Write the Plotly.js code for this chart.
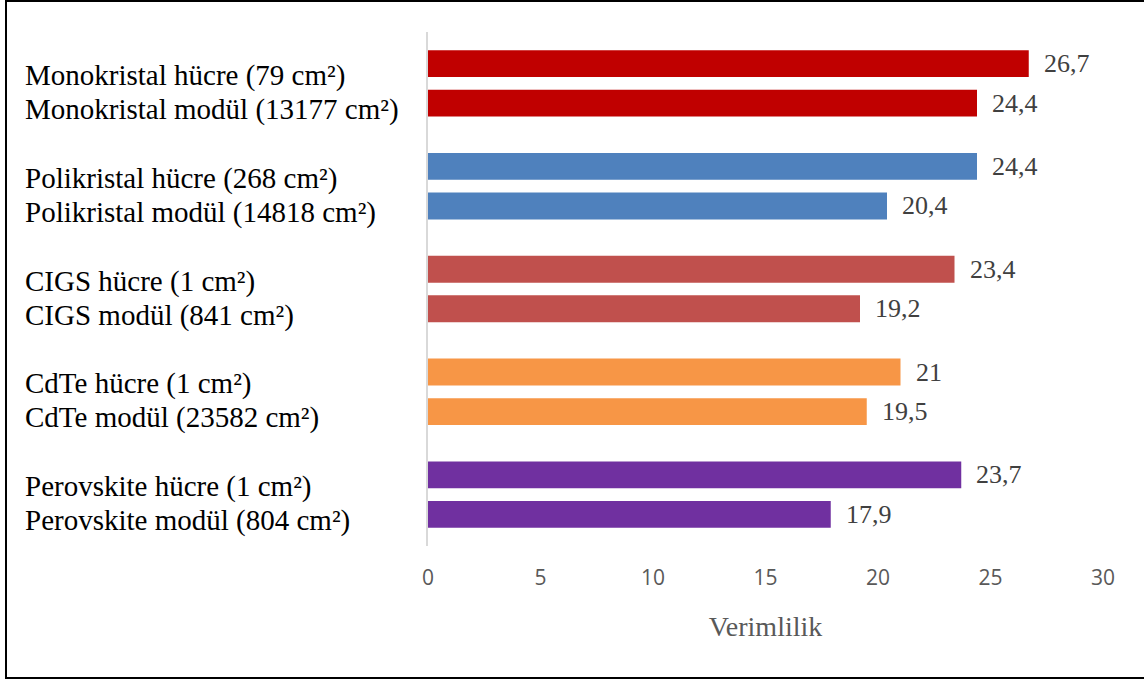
<!DOCTYPE html>
<html>
<head>
<meta charset="utf-8">
<script src="https://cdn.plot.ly/plotly-3.0.1.min.js"></script>
<style>
  html, body { margin: 0; padding: 0; background: #fff; overflow: hidden; }
  #chart { position: absolute; left: 0; top: 0; width: 1144px; height: 679px; }
  #frame { position: absolute; left: 5px; top: 0px; width: 1200px; height: 675px;
           border: 2px solid #000; border-right: none; pointer-events: none; }
</style>
</head>
<body>
<div id="chart"></div>
<div id="frame"></div>
<script>
// ---- data ----
var groups = ["Monokristal", "Polikristal", "CIGS", "CdTe", "Perovskite"];
var cellLabels = [
  "Monokristal hücre (79 cm²)",
  "Polikristal hücre (268 cm²)",
  "CIGS hücre (1 cm²)",
  "CdTe hücre (1 cm²)",
  "Perovskite hücre (1 cm²)"
];
var moduleLabels = [
  "Monokristal modül (13177 cm²)",
  "Polikristal modül (14818 cm²)",
  "CIGS modül (841 cm²)",
  "CdTe modül (23582 cm²)",
  "Perovskite modül (804 cm²)"
];
var cellValues = [26.7, 24.4, 23.4, 21, 23.7];
var moduleValues = [24.4, 20.4, 19.2, 19.5, 17.9];
var groupColors = ["#C00000", "#4F81BD", "#C0504D", "#F79646", "#7030A0"];
var xTicks = [0, 5, 10, 15, 20, 25, 30];
var axisTitle = "Verimlilik";

// ---- layout helpers ----
var groupStep = 2.6;
var ys = [], xs = [], cols = [];
groups.forEach(function (g, i) {
  ys.push(i * groupStep);     xs.push(cellValues[i]);   cols.push(groupColors[i]);
  ys.push(i * groupStep + 1); xs.push(moduleValues[i]); cols.push(groupColors[i]);
});
function fmt(v) { return String(v).replace(".", ","); }

var serif = "Liberation Serif, Times New Roman, serif";
var annotations = [];
xs.forEach(function (v, k) {
  annotations.push({
    x: v, y: ys[k], xref: "x", yref: "y", text: fmt(v), showarrow: false,
    xanchor: "left", yanchor: "middle", xshift: 13,
    font: { family: serif, size: 26, color: "#404040" }
  });
});
groups.forEach(function (g, i) {
  var yc = i * groupStep + 0.5;
  annotations.push({
    x: 0, y: yc, xref: "paper", yref: "y", text: cellLabels[i], showarrow: false,
    xanchor: "left", yanchor: "middle", xshift: -405, yshift: 8,
    font: { family: serif, size: 29, color: "#000" }
  });
  annotations.push({
    x: 0, y: yc, xref: "paper", yref: "y", text: moduleLabels[i], showarrow: false,
    xanchor: "left", yanchor: "middle", xshift: -405, yshift: -26,
    font: { family: serif, size: 29, color: "#000" }
  });
});

var trace = {
  type: "bar", orientation: "h",
  x: xs, y: ys, width: 0.68,
  marker: { color: cols },
  hoverinfo: "x"
};

var layout = {
  width: 1144, height: 679,
  margin: { l: 428, r: 41, t: 32, b: 133 },
  paper_bgcolor: "#fff", plot_bgcolor: "#fff",
  showlegend: false,
  xaxis: {
    range: [0, 30], tickvals: xTicks, ticktext: xTicks.map(String),
    showgrid: false, zeroline: false, showline: false, ticks: "",
    ticklabelstandoff: 17,
    tickfont: { family: "Open Sans, sans-serif", size: 21, color: "#595959" },
    title: { text: axisTitle, standoff: 26,
             font: { family: serif, size: 28, color: "#595959" } },
    automargin: false, fixedrange: true
  },
  yaxis: {
    range: [4 * groupStep + 1 + 0.8, -0.8],
    showticklabels: false, ticks: "", showgrid: false, zeroline: false,
    showline: true, linecolor: "#D9D9D9", linewidth: 2,
    automargin: false, fixedrange: true
  },
  annotations: annotations
};

Plotly.newPlot("chart", [trace], layout, { displayModeBar: false, staticPlot: true });
</script>
</body>
</html>
